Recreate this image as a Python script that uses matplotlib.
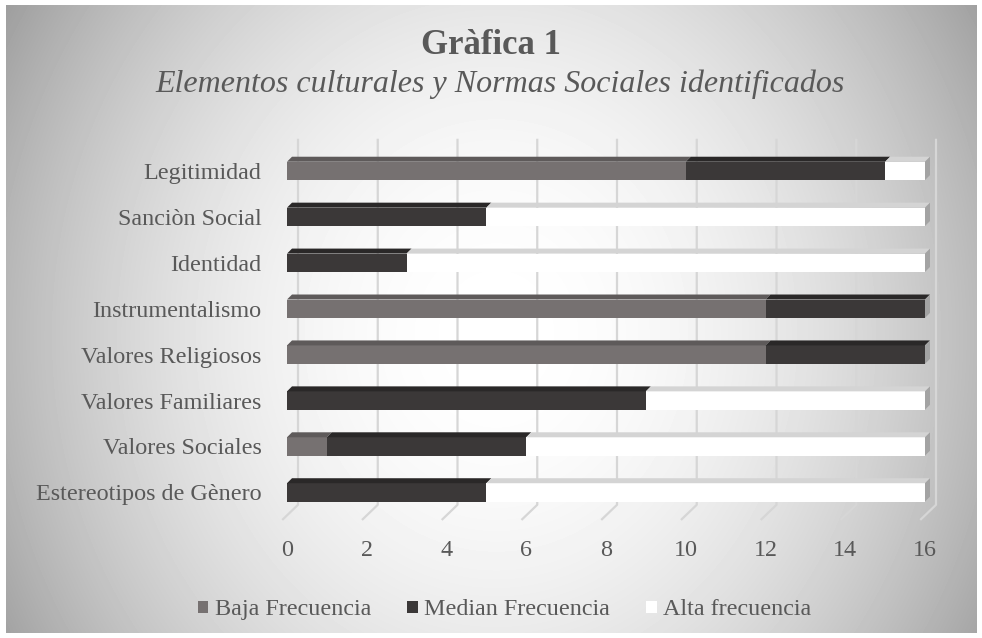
import numpy as np
import matplotlib.pyplot as plt
from matplotlib.patches import Polygon, Patch

plt.rcParams['font.family'] = ['Liberation Serif', 'DejaVu Serif']

categories = ['Estereotipos de Gènero', 'Valores Sociales', 'Valores Familiares',
              'Valores Religiosos', 'Instrumentalismo', 'Identidad',
              'Sanciòn Social', 'Legitimidad']
baja = [0, 1, 0, 12, 12, 0, 0, 10]
median = [5, 5, 9, 4, 4, 3, 5, 5]
alta = [11, 10, 7, 0, 0, 13, 11, 1]
series_names = ['Baja Frecuencia', 'Median Frecuencia', 'Alta frecuencia']
xticks = list(range(0, 17, 2))

front = ['#767171', '#3b3838', '#ffffff']
top = ['#5e5a5a', '#2a2828', '#d4d4d4']
text_col = '#595959'

fig = plt.figure(figsize=(9.82, 6.38), dpi=100)

# radial gradient background
bg = fig.add_axes([6 / 982, 5 / 638, 971 / 982, 628 / 638])
W, H = 971, 628
xx, yy = np.meshgrid(np.arange(W), np.arange(H))
d2 = ((xx - 490) / 926) ** 2 + ((yy - 330) / 1043) ** 2
g = np.clip(1.0 - d2, 0, 1)
bg.imshow(g, cmap='gray', vmin=0, vmax=1, aspect='auto', interpolation='bilinear')
bg.axis('off')

ax = fig.add_axes([0.27196, 0.1771, 0.70248, 0.6191])
ax.set_xlim(-0.5, 16.8)
ax.set_ylim(-0.71, 7.89)
ax.patch.set_alpha(0)
for s in ax.spines.values():
    s.set_visible(False)

dxu, dyu = 5 / 39.875, 5 / 46.0
wall = 11 / 39.875
h = 0.2
y = np.arange(len(categories))

# back wall gridlines with floor lines
for t in xticks:
    ax.plot([t + wall, t + wall, t - 0.12], [7.7, -0.27, -0.6],
            color='#d6d6d6', lw=1.6, zorder=1, solid_capstyle='butt')

left = np.zeros(len(categories))
for vals, fc, tc, name in zip([baja, median, alta], front, top, series_names):
    vals = np.array(vals, dtype=float)
    ax.barh(y, vals, left=left, height=2 * h, color=fc, zorder=3, label=name)
    for yi, l, w in zip(y, left, vals):
        if w <= 0:
            continue
        ax.add_patch(Polygon([(l, yi + h), (l + w, yi + h),
                              (l + w + dxu, yi + h + dyu), (l + dxu, yi + h + dyu)],
                             closed=True, facecolor=tc, edgecolor='none', zorder=3))
    left = left + vals

for yi, r in zip(y, left):
    ax.add_patch(Polygon([(r, yi + h), (r + dxu, yi + h + dyu),
                          (r + dxu, yi - h + dyu), (r, yi - h)],
                         closed=True, facecolor='#a3a3a3', edgecolor='none', zorder=3))

ax.set_yticks(y)
ax.set_yticklabels(categories, fontsize=17.4, color=text_col)
ax.set_xticks(xticks)
ax.set_xticklabels([str(t) for t in xticks], fontsize=17.4, color=text_col)
ax.tick_params(axis='y', length=0, pad=4)
ax.tick_params(axis='x', length=0, pad=11)

fig.text(0.5, 1 - 46 / 638, 'Gràfica 1', ha='center', va='center', fontsize=25,
         fontweight='bold', color=text_col)
fig.text(0.509, 1 - 84 / 638, 'Elementos culturales y Normas Sociales identificados',
         ha='center', va='center', fontsize=23, style='italic', color=text_col)

handles = [Patch(facecolor=c, edgecolor='none') for c in front]
fig.legend(handles, series_names, loc='center', bbox_to_anchor=(0.514, 0.044),
           ncol=3, frameon=False, fontsize=17.4, labelcolor=text_col,
           handlelength=0.42, handleheight=0.42, handletextpad=0.28,
           columnspacing=1.5)

fig.savefig('out.png', dpi=100)
